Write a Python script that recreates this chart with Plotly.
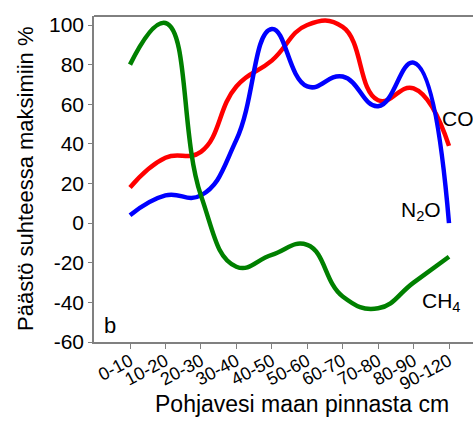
import plotly.graph_objects as go

# Groundwater depth classes (cm below soil surface)
depth_classes = ["0-10", "10-20", "20-30", "30-40", "40-50",
                 "50-60", "60-70", "70-80", "80-90", "90-120"]

# Emission relative to the maximum (%)
co2 = [18, 33, 36, 69, 82, 100, 99, 62, 68, 39]
n2o = [4, 14, 14, 42, 98, 69, 74, 59, 81, 0]
ch4 = [80, 101, 14, -22, -16, -11, -37, -43, -30, -17]

y_ticks = [-60, -40, -20, 0, 20, 40, 60, 80, 100]
y_tick_text = [str(v) for v in y_ticks]

FONT = "Liberation Sans, Arial, sans-serif"

x_idx = list(range(len(depth_classes)))

fig = go.Figure()
for values, color, name in [(co2, "#ff0000", "CO2"),
                            (n2o, "#0000ff", "N2O"),
                            (ch4, "#008000", "CH4")]:
    fig.add_trace(go.Scatter(
        x=x_idx, y=values, mode="lines", name=name,
        line=dict(color=color, width=4.5, shape="spline", smoothing=1.3),
        hoverinfo="skip",
    ))

fig.update_layout(
    width=473, height=422,
    margin=dict(l=94, r=0, t=16, b=80),
    paper_bgcolor="white", plot_bgcolor="white",
    showlegend=False,
    font=dict(family=FONT, color="black"),
)

fig.update_xaxes(
    range=[-1.016, 9.677],
    tickmode="array", tickvals=x_idx, ticktext=depth_classes,
    tickangle=-28, tickfont=dict(size=18),
    ticks="outside", ticklen=5, tickcolor="#808080",
    ticklabelstandoff=-5,
    showline=True, linecolor="#808080", linewidth=1.5,
    showgrid=False, zeroline=False,
)
fig.update_yaxes(
    range=[-60, 104.54],
    tickmode="array", tickvals=y_ticks, ticktext=y_tick_text,
    tickfont=dict(size=21),
    ticks="outside", ticklen=4, tickcolor="#808080",
    showline=True, linecolor="#808080", linewidth=1.5,
    showgrid=False, zeroline=False,
)

# Top frame line
fig.add_shape(type="line", xref="paper", yref="paper",
              x0=0, x1=1, y0=1, y1=1,
              line=dict(color="black", width=1))

annotations = [
    # axis titles
    dict(text="Päästö suhteessa maksimiin %", xref="paper", yref="paper",
         x=0, y=0.5, xanchor="center", yanchor="middle", xshift=-69,
         textangle=-90, showarrow=False, font=dict(size=22)),
    dict(text="Pohjavesi maan pinnasta cm", xref="x", yref="paper",
         x=4.85, y=0, xanchor="center", yanchor="middle", yshift=-62,
         showarrow=False, font=dict(size=23)),
    # panel letter
    dict(text="b", xref="x", yref="y", x=-0.79, y=-51.9,
         xanchor="left", yanchor="middle", showarrow=False,
         font=dict(size=22)),
    # series labels
    dict(text="CO<sub>2</sub>", xref="x", yref="y", x=8.747, y=52,
         xanchor="left", yanchor="middle", showarrow=False,
         font=dict(size=21)),
    dict(text="N<sub>2</sub>O", xref="x", yref="y", x=7.6, y=6,
         xanchor="left", yanchor="middle", showarrow=False,
         font=dict(size=21)),
    dict(text="CH<sub>4</sub>", xref="x", yref="y", x=8.18, y=-40,
         xanchor="left", yanchor="middle", showarrow=False,
         font=dict(size=21)),
]
fig.update_layout(annotations=annotations)

fig.write_html("out.html")
